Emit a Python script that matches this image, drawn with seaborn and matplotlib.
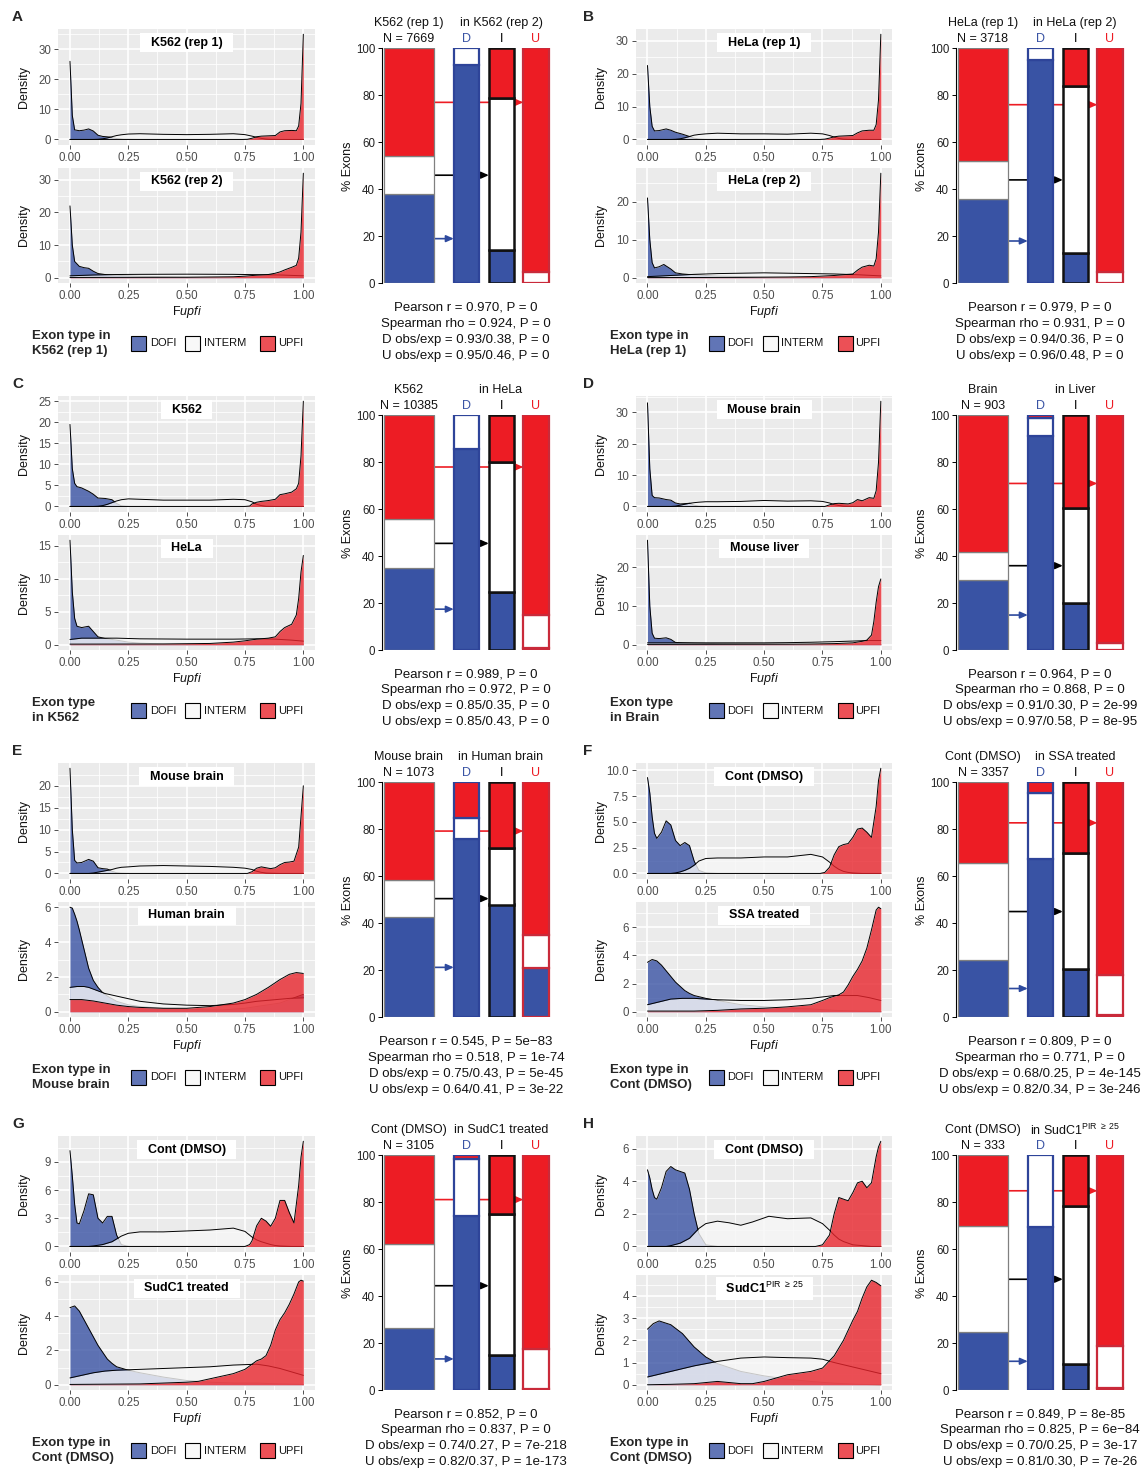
import numpy as np
import pandas as pd
import seaborn as sns
import matplotlib.pyplot as plt
from matplotlib.patches import Rectangle

W, H = 1144, 1472

# ---------------- density curves, (Fupfi, density) ----------------
a1_dofi = [(0, 26), (0.01, 8), (0.02, 3.2), (0.04, 2.9), (0.06, 3.1), (0.08, 3.5), (0.1, 2.8), (0.12, 1.4), (0.14, 1.0), (0.17, 0.8), (0.2, 0.3), (0.23, 0.05), (0.3, 0), (1, 0)]
a1_interm = [(0, 0), (0.1, 0), (0.12, 0.05), (0.14, 0.2), (0.16, 0.5), (0.18, 0.9), (0.2, 1.3), (0.22, 1.55), (0.25, 1.8), (0.3, 1.9), (0.4, 1.7), (0.5, 1.6), (0.6, 1.7), (0.7, 1.9), (0.75, 1.6), (0.78, 1.1), (0.8, 0.7), (0.82, 0.35), (0.84, 0.15), (0.86, 0.05), (0.9, 0), (1, 0)]
a1_upfi = [(0, 0), (0.74, 0), (0.76, 0.05), (0.78, 0.4), (0.8, 0.9), (0.82, 1.1), (0.85, 1.2), (0.88, 1.3), (0.9, 2.5), (0.92, 2.9), (0.95, 3.0), (0.97, 2.9), (0.98, 4.5), (0.99, 12), (1, 35)]
a2_dofi = [(0, 22), (0.01, 10), (0.02, 5), (0.04, 3.5), (0.06, 3.1), (0.08, 2.9), (0.1, 2.0), (0.12, 1.3), (0.15, 1.0), (0.2, 0.75), (0.3, 0.45), (0.5, 0.25), (0.7, 0.2), (0.85, 0.12), (1, 0.1)]
a2_interm = [(0, 0.6), (0.1, 0.85), (0.2, 1.0), (0.3, 1.05), (0.5, 1.1), (0.7, 1.05), (0.8, 0.95), (0.9, 0.85), (1, 0.6)]
a2_upfi = [(0, 0.1), (0.5, 0.15), (0.7, 0.3), (0.75, 0.5), (0.8, 0.8), (0.85, 1.0), (0.88, 1.4), (0.9, 1.8), (0.92, 2.4), (0.95, 3.2), (0.97, 3.8), (0.98, 6), (0.99, 14), (1, 32)]

b1_dofi = [(0, 22.5), (0.01, 10), (0.02, 4), (0.03, 2.6), (0.05, 2.7), (0.08, 3.2), (0.1, 2.8), (0.12, 2.2), (0.15, 1.6), (0.18, 0.9), (0.2, 0.4), (0.22, 0.15), (0.25, 0), (1, 0)]
b1_interm = [(0, 0), (0.1, 0), (0.12, 0.05), (0.14, 0.2), (0.16, 0.5), (0.18, 0.9), (0.2, 1.3), (0.22, 1.5), (0.25, 1.7), (0.3, 1.9), (0.4, 1.7), (0.5, 1.7), (0.6, 1.6), (0.7, 1.9), (0.75, 1.7), (0.78, 1.2), (0.8, 0.7), (0.82, 0.3), (0.84, 0.1), (0.86, 0.03), (0.9, 0), (1, 0)]
b1_upfi = [(0, 0), (0.74, 0), (0.76, 0.1), (0.78, 0.4), (0.8, 0.8), (0.82, 1.0), (0.85, 1.1), (0.88, 1.2), (0.9, 2.0), (0.92, 2.6), (0.95, 2.8), (0.97, 2.8), (0.98, 4.5), (0.99, 12), (1, 32)]
b2_dofi = [(0, 21), (0.01, 10), (0.02, 4), (0.03, 2.6), (0.05, 2.9), (0.07, 3.5), (0.1, 2.3), (0.12, 1.3), (0.15, 1.0), (0.2, 0.75), (0.3, 0.45), (0.5, 0.2), (0.7, 0.1), (1, 0.1)]
b2_interm = [(0, 0.3), (0.1, 0.6), (0.2, 0.9), (0.3, 1.1), (0.5, 1.3), (0.7, 1.1), (0.8, 1.0), (0.9, 0.8), (1, 0.5)]
b2_upfi = [(0, 0.05), (0.4, 0.1), (0.6, 0.2), (0.7, 0.3), (0.8, 0.6), (0.86, 0.9), (0.88, 1.0), (0.9, 2.0), (0.92, 2.8), (0.95, 3.3), (0.97, 3.1), (0.98, 5), (0.99, 12), (1, 27.5)]

c1_dofi = [(0, 19.5), (0.01, 9), (0.02, 5.5), (0.03, 4.7), (0.05, 4.4), (0.08, 3.6), (0.1, 2.9), (0.12, 2.0), (0.15, 1.9), (0.18, 1.6), (0.2, 0.7), (0.22, 0.15), (0.25, 0), (1, 0)]
c1_interm = [(0, 0), (0.1, 0), (0.12, 0.05), (0.14, 0.2), (0.16, 0.5), (0.18, 0.9), (0.2, 1.3), (0.22, 1.6), (0.25, 1.8), (0.3, 1.7), (0.4, 1.5), (0.5, 1.5), (0.6, 1.5), (0.7, 1.7), (0.75, 1.6), (0.78, 1.1), (0.8, 0.5), (0.82, 0.2), (0.84, 0.05), (0.88, 0), (1, 0)]
c1_upfi = [(0, 0), (0.75, 0), (0.77, 0.1), (0.78, 0.6), (0.8, 1.0), (0.82, 1.2), (0.85, 1.4), (0.88, 1.7), (0.9, 2.8), (0.92, 3.0), (0.95, 3.4), (0.97, 4.2), (0.98, 5.5), (0.99, 12), (1, 25)]
c2_dofi = [(0, 15.8), (0.01, 8), (0.02, 4), (0.03, 2.8), (0.05, 2.6), (0.08, 2.8), (0.1, 2.0), (0.12, 1.2), (0.15, 0.95), (0.2, 0.7), (0.25, 0.4), (0.3, 0.25), (0.4, 0.12), (0.6, 0.08), (1, 0.08)]
c2_interm = [(0, 0.8), (0.05, 1.0), (0.2, 1.0), (0.3, 0.9), (0.5, 0.85), (0.7, 0.85), (0.8, 0.9), (0.88, 0.85), (0.95, 0.7), (1, 0.55)]
c2_upfi = [(0, 0.1), (0.4, 0.12), (0.6, 0.2), (0.7, 0.4), (0.75, 0.6), (0.8, 0.85), (0.85, 1.0), (0.88, 1.2), (0.9, 2.0), (0.92, 2.6), (0.95, 3.1), (0.97, 4.5), (0.98, 7), (0.99, 11), (1, 13.5)]

d1_dofi = [(0, 33), (0.01, 12), (0.02, 3.5), (0.03, 2.8), (0.05, 2.7), (0.08, 2.2), (0.1, 2.0), (0.12, 1.1), (0.14, 0.8), (0.16, 0.9), (0.18, 1.0), (0.2, 0.4), (0.22, 0.1), (0.25, 0), (1, 0)]
d1_interm = [(0, 0), (0.1, 0), (0.12, 0.1), (0.14, 0.4), (0.16, 0.7), (0.18, 1.0), (0.2, 1.2), (0.22, 1.35), (0.25, 1.5), (0.3, 1.5), (0.4, 1.6), (0.5, 1.9), (0.6, 1.7), (0.7, 1.8), (0.75, 1.6), (0.78, 1.1), (0.8, 0.6), (0.82, 0.3), (0.84, 0.1), (0.86, 0.05), (0.9, 0), (1, 0)]
d1_upfi = [(0, 0), (0.76, 0), (0.78, 0.5), (0.8, 0.9), (0.82, 1.0), (0.84, 0.9), (0.86, 0.8), (0.88, 1.2), (0.9, 2.2), (0.92, 1.8), (0.95, 2.8), (0.97, 2.6), (0.98, 5), (0.99, 14), (1, 33.5)]
d2_dofi = [(0, 27), (0.01, 10), (0.02, 3), (0.03, 1.7), (0.05, 1.6), (0.08, 1.8), (0.1, 1.4), (0.12, 0.6), (0.15, 0.5), (0.2, 0.4), (0.3, 0.3), (0.5, 0.2), (0.7, 0.1), (1, 0.1)]
d2_interm = [(0, 0.5), (0.5, 0.5), (0.6, 0.55), (0.7, 0.65), (0.8, 0.8), (0.9, 1.0), (0.95, 1.1), (1, 1.1)]
d2_upfi = [(0, 0.1), (0.6, 0.15), (0.7, 0.2), (0.8, 0.3), (0.88, 0.5), (0.9, 0.7), (0.92, 0.9), (0.94, 1.2), (0.96, 2.5), (0.97, 6), (0.98, 11), (0.99, 15), (1, 17)]

e1_dofi = [(0, 24), (0.01, 10), (0.02, 3), (0.03, 2.4), (0.05, 2.5), (0.08, 3.2), (0.1, 2.8), (0.12, 1.3), (0.14, 1.1), (0.16, 1.0), (0.18, 0.5), (0.2, 0.15), (0.22, 0.05), (0.25, 0), (1, 0)]
e1_interm = [(0, 0), (0.08, 0), (0.1, 0.1), (0.12, 0.3), (0.14, 0.5), (0.16, 0.7), (0.18, 0.9), (0.2, 1.2), (0.22, 1.4), (0.25, 1.5), (0.3, 1.7), (0.4, 1.8), (0.5, 1.7), (0.6, 1.6), (0.7, 1.4), (0.75, 1.2), (0.78, 0.9), (0.8, 0.5), (0.82, 0.25), (0.84, 0.1), (0.86, 0.05), (0.9, 0), (1, 0)]
e1_upfi = [(0, 0), (0.76, 0), (0.78, 0.4), (0.8, 1.2), (0.82, 1.5), (0.84, 1.3), (0.86, 1.1), (0.88, 1.3), (0.9, 2.0), (0.92, 2.5), (0.94, 2.6), (0.96, 2.8), (0.98, 6), (0.99, 13), (1, 20)]
e2_dofi = [(0, 6.0), (0.01, 5.95), (0.02, 5.6), (0.03, 5.2), (0.04, 4.7), (0.06, 3.6), (0.08, 2.5), (0.1, 1.8), (0.12, 1.4), (0.14, 1.1), (0.16, 0.9), (0.18, 0.75), (0.2, 0.6), (0.25, 0.4), (0.3, 0.3), (0.4, 0.2), (0.5, 0.15), (0.6, 0.1), (0.65, 0.1), (0.75, 0.2), (0.8, 0.3), (0.85, 0.4), (0.9, 0.5), (0.95, 0.75), (1, 1.0)]
e2_interm = [(0, 1.4), (0.03, 1.45), (0.06, 1.45), (0.08, 1.4), (0.1, 1.3), (0.12, 1.2), (0.15, 1.05), (0.2, 0.9), (0.25, 0.75), (0.3, 0.6), (0.4, 0.45), (0.5, 0.38), (0.6, 0.35), (0.7, 0.42), (0.75, 0.5), (0.8, 0.6), (0.85, 0.66), (0.9, 0.72), (0.95, 0.78), (1, 0.8)]
e2_upfi = [(0, 0.7), (0.05, 0.7), (0.1, 0.62), (0.15, 0.5), (0.2, 0.38), (0.25, 0.3), (0.3, 0.25), (0.4, 0.2), (0.5, 0.2), (0.6, 0.3), (0.7, 0.5), (0.75, 0.7), (0.8, 1.0), (0.85, 1.4), (0.9, 1.85), (0.94, 2.15), (0.97, 2.25), (1, 2.2)]

f1_dofi = [(0, 9.3), (0.01, 7.8), (0.02, 5.5), (0.03, 3.9), (0.04, 3.4), (0.06, 4.0), (0.08, 5.1), (0.1, 4.7), (0.12, 3.2), (0.14, 2.7), (0.16, 3.0), (0.18, 2.7), (0.2, 1.2), (0.22, 0.3), (0.25, 0.05), (0.3, 0), (1, 0)]
f1_interm = [(0, 0), (0.1, 0), (0.12, 0.05), (0.14, 0.15), (0.16, 0.3), (0.18, 0.5), (0.2, 0.8), (0.22, 1.2), (0.25, 1.45), (0.3, 1.5), (0.4, 1.5), (0.5, 1.6), (0.6, 1.6), (0.7, 1.85), (0.75, 1.6), (0.78, 1.1), (0.8, 0.7), (0.82, 0.4), (0.84, 0.2), (0.86, 0.1), (0.88, 0.05), (0.92, 0), (1, 0)]
f1_upfi = [(0, 0), (0.74, 0), (0.76, 0.1), (0.78, 0.6), (0.8, 1.8), (0.82, 2.6), (0.84, 2.8), (0.86, 2.9), (0.88, 3.5), (0.9, 4.3), (0.92, 4.4), (0.94, 4.0), (0.96, 3.5), (0.98, 6.5), (0.99, 9), (1, 10.2)]
f2_dofi = [(0, 3.5), (0.02, 3.7), (0.04, 3.6), (0.06, 3.3), (0.08, 2.9), (0.1, 2.5), (0.12, 2.1), (0.14, 1.8), (0.16, 1.5), (0.18, 1.3), (0.2, 1.15), (0.25, 0.95), (0.3, 0.8), (0.4, 0.5), (0.5, 0.35), (0.6, 0.25), (0.7, 0.2), (0.8, 0.1), (0.9, 0.05), (1, 0.02)]
f2_interm = [(0, 0.5), (0.05, 0.7), (0.1, 0.9), (0.15, 0.95), (0.2, 0.95), (0.3, 0.85), (0.4, 0.8), (0.5, 0.8), (0.6, 0.85), (0.7, 0.95), (0.75, 1.05), (0.8, 1.15), (0.9, 1.15), (0.95, 1.0), (1, 0.8)]
f2_upfi = [(0, 0.05), (0.2, 0.05), (0.3, 0.1), (0.4, 0.2), (0.5, 0.25), (0.6, 0.35), (0.7, 0.5), (0.75, 0.8), (0.78, 1.0), (0.82, 1.2), (0.84, 1.4), (0.86, 1.9), (0.88, 2.5), (0.9, 3.0), (0.92, 3.6), (0.94, 4.5), (0.96, 5.8), (0.98, 7.2), (0.99, 7.4), (1, 7.3)]

g1_dofi = [(0, 10.2), (0.01, 7.5), (0.02, 4.5), (0.03, 2.5), (0.04, 2.4), (0.06, 3.8), (0.08, 5.6), (0.1, 5.5), (0.12, 3.0), (0.14, 2.5), (0.16, 3.2), (0.18, 3.2), (0.2, 1.2), (0.22, 0.2), (0.25, 0), (1, 0)]
g1_interm = [(0, 0), (0.08, 0), (0.1, 0.05), (0.14, 0.2), (0.18, 0.5), (0.2, 0.8), (0.22, 1.1), (0.25, 1.4), (0.3, 1.55), (0.4, 1.55), (0.5, 1.65), (0.6, 1.75), (0.7, 1.95), (0.75, 1.6), (0.78, 1.0), (0.8, 0.7), (0.82, 0.5), (0.84, 0.35), (0.86, 0.2), (0.88, 0.1), (0.9, 0.05), (0.95, 0), (1, 0)]
g1_upfi = [(0, 0), (0.75, 0), (0.77, 0.2), (0.78, 0.6), (0.8, 2.2), (0.82, 3.0), (0.84, 2.7), (0.86, 2.15), (0.88, 3.0), (0.9, 4.9), (0.92, 4.9), (0.94, 3.6), (0.96, 2.5), (0.98, 6.5), (0.99, 9.5), (1, 11.2)]
g2_dofi = [(0, 4.5), (0.02, 4.6), (0.04, 4.3), (0.06, 3.8), (0.08, 3.3), (0.1, 2.8), (0.12, 2.3), (0.14, 1.9), (0.16, 1.5), (0.18, 1.25), (0.2, 1.05), (0.25, 0.85), (0.3, 0.7), (0.4, 0.45), (0.5, 0.25), (0.6, 0.15), (0.7, 0.1), (0.8, 0.1), (0.9, 0.05), (1, 0.02)]
g2_interm = [(0, 0.4), (0.05, 0.55), (0.1, 0.7), (0.15, 0.8), (0.2, 0.85), (0.3, 0.9), (0.4, 0.95), (0.5, 1.0), (0.6, 1.05), (0.7, 1.15), (0.8, 1.2), (0.85, 1.1), (0.9, 0.95), (0.95, 0.75), (1, 0.55)]
g2_upfi = [(0, 0.02), (0.3, 0.05), (0.4, 0.1), (0.5, 0.15), (0.55, 0.2), (0.6, 0.35), (0.7, 0.65), (0.75, 0.9), (0.78, 1.2), (0.8, 1.4), (0.82, 1.5), (0.84, 1.7), (0.86, 2.3), (0.88, 3.2), (0.9, 3.8), (0.92, 4.2), (0.94, 4.7), (0.96, 5.3), (0.98, 6.0), (0.99, 6.1), (1, 6.05)]

h1_dofi = [(0, 4.7), (0.01, 4.2), (0.02, 3.5), (0.03, 3.0), (0.04, 2.9), (0.06, 3.6), (0.08, 4.6), (0.1, 4.9), (0.12, 4.7), (0.14, 4.6), (0.16, 4.5), (0.18, 3.5), (0.2, 2.0), (0.22, 0.8), (0.25, 0.1), (0.3, 0), (1, 0)]
h1_interm = [(0, 0), (0.08, 0), (0.1, 0.05), (0.14, 0.2), (0.18, 0.5), (0.2, 0.8), (0.22, 1.1), (0.25, 1.4), (0.3, 1.55), (0.35, 1.45), (0.4, 1.3), (0.45, 1.5), (0.52, 1.85), (0.6, 1.7), (0.7, 1.75), (0.75, 1.4), (0.78, 1.0), (0.8, 0.7), (0.82, 0.45), (0.84, 0.3), (0.86, 0.2), (0.88, 0.1), (0.92, 0.05), (0.96, 0), (1, 0)]
h1_upfi = [(0, 0), (0.72, 0), (0.75, 0.1), (0.78, 0.7), (0.8, 2.0), (0.82, 3.0), (0.84, 2.9), (0.86, 2.8), (0.88, 3.3), (0.9, 3.9), (0.92, 4.0), (0.94, 3.6), (0.96, 3.9), (0.98, 5.5), (0.99, 6.1), (1, 6.45)]
h2_dofi = [(0, 2.5), (0.025, 2.75), (0.05, 2.87), (0.1, 2.7), (0.15, 2.3), (0.2, 1.7), (0.25, 1.25), (0.3, 0.95), (0.4, 0.6), (0.5, 0.4), (0.6, 0.25), (0.7, 0.15), (0.8, 0.07), (0.9, 0.02), (1, 0)]
h2_interm = [(0, 0.35), (0.1, 0.6), (0.2, 0.85), (0.3, 1.05), (0.4, 1.2), (0.5, 1.25), (0.6, 1.22), (0.7, 1.2), (0.75, 1.15), (0.8, 1.0), (0.9, 0.75), (1, 0.5)]
h2_upfi = [(0, 0), (0.1, 0.02), (0.2, 0.05), (0.3, 0.15), (0.35, 0.1), (0.4, 0.05), (0.45, 0.05), (0.5, 0.15), (0.6, 0.45), (0.7, 0.6), (0.75, 0.75), (0.8, 1.3), (0.84, 2.0), (0.88, 2.9), (0.9, 3.3), (0.92, 3.9), (0.94, 4.4), (0.96, 4.7), (0.98, 4.6), (1, 4.45)]

# y tick step of the upper / lower density panel
tick_steps = [(10, 10), (10, 10), (5, 5), (10, 10), (5, 2), (2.5, 2), (3, 2), (2, 1)]

# ---------------- stacked bars: % D / I / U; reference bar then D, I, U groups ----------------
bars_a = [[38, 16, 46], [93, 7, 0], [14, 65, 21], [0, 5, 95]]
bars_b = [[36, 16, 48], [95, 5, 0], [13, 71, 16], [0, 5, 95]]
bars_c = [[35, 21, 44], [85.5, 14.5, 0], [25, 55, 20], [1, 14, 85]]
bars_d = [[30, 12, 58], [91, 8, 1], [20, 40.5, 39.5], [0, 3, 97]]
bars_e = [[42.5, 16, 41.5], [76, 9, 15], [48, 24, 28], [21, 14, 65]]
bars_f = [[24.5, 41, 34.5], [67.5, 28, 4.5], [20.5, 49.5, 30], [1, 17, 82]]
bars_g = [[26.7, 35.6, 37.7], [74, 24.5, 1.5], [15, 60, 25], [0.7, 16.7, 82.6]]
bars_h = [[24.7, 45.1, 30.2], [69.5, 30.5, 0], [11, 67.5, 21.5], [1, 18, 81]]

n_exons = [7669, 3718, 10385, 903, 1073, 3357, 3105, 333]
ref_names = ['K562 (rep 1)', 'HeLa (rep 1)', 'K562', 'Brain', 'Mouse brain', 'Cont (DMSO)', 'Cont (DMSO)', 'Cont (DMSO)']
cmp_names = ['in K562 (rep 2)', 'in HeLa (rep 2)', 'in HeLa', 'in Liver', 'in Human brain', 'in SSA treated',
             'in SudC1 treated', 'in SudC1$^{\\mathrm{PIR\\ \\geq\\ 25}}$']
strip_top = ['K562 (rep 1)', 'HeLa (rep 1)', 'K562', 'Mouse brain', 'Mouse brain', 'Cont (DMSO)', 'Cont (DMSO)', 'Cont (DMSO)']
strip_bottom = ['K562 (rep 2)', 'HeLa (rep 2)', 'HeLa', 'Mouse liver', 'Human brain', 'SSA treated', 'SudC1 treated',
                'SudC1$^{\\mathrm{PIR\\ \\geq\\ 25}}$']
legend_titles = ['Exon type in\nK562 (rep 1)', 'Exon type in\nHeLa (rep 1)', 'Exon type\nin K562', 'Exon type\nin Brain',
                 'Exon type in\nMouse brain', 'Exon type in\nCont (DMSO)', 'Exon type in\nCont (DMSO)', 'Exon type in\nCont (DMSO)']

pearson_r = ['0.970', '0.979', '0.989', '0.964', '0.545', '0.809', '0.852', '0.849']
pearson_p = ['0', '0', '0', '0', '5e\u221283', '0', '0', '8e-85']
spearman_rho = ['0.924', '0.931', '0.972', '0.868', '0.518', '0.771', '0.837', '0.825']
spearman_p = ['0', '0', '0', '0', '1e-74', '0', '0', '6e\u221284']
d_obs_exp = ['0.93/0.38', '0.94/0.36', '0.85/0.35', '0.91/0.30', '0.75/0.43', '0.68/0.25', '0.74/0.27', '0.70/0.25']
d_p = ['0', '0', '0', '2e-99', '5e-45', '4e-145', '7e-218', '3e-17']
u_obs_exp = ['0.95/0.46', '0.96/0.48', '0.85/0.43', '0.97/0.58', '0.64/0.41', '0.82/0.34', '0.82/0.37', '0.81/0.30']
u_p = ['0', '0', '0', '8e-95', '3e-22', '3e-246', '1e-173', '7e-26']

letters = ['A', 'B', 'C', 'D', 'E', 'F', 'G', 'H']
densities = [
    ((a1_dofi, a1_interm, a1_upfi), (a2_dofi, a2_interm, a2_upfi)),
    ((b1_dofi, b1_interm, b1_upfi), (b2_dofi, b2_interm, b2_upfi)),
    ((c1_dofi, c1_interm, c1_upfi), (c2_dofi, c2_interm, c2_upfi)),
    ((d1_dofi, d1_interm, d1_upfi), (d2_dofi, d2_interm, d2_upfi)),
    ((e1_dofi, e1_interm, e1_upfi), (e2_dofi, e2_interm, e2_upfi)),
    ((f1_dofi, f1_interm, f1_upfi), (f2_dofi, f2_interm, f2_upfi)),
    ((g1_dofi, g1_interm, g1_upfi), (g2_dofi, g2_interm, g2_upfi)),
    ((h1_dofi, h1_interm, h1_upfi), (h2_dofi, h2_interm, h2_upfi)),
]
bar_sets = [bars_a, bars_b, bars_c, bars_d, bars_e, bars_f, bars_g, bars_h]

# ---------------- style ----------------
sns.set_theme(style='darkgrid', rc={'axes.facecolor': '#EBEBEB', 'grid.color': 'white'})
plt.rcParams['font.family'] = ['Liberation Sans', 'DejaVu Sans']
plt.rcParams['mathtext.fontset'] = 'custom'
plt.rcParams['mathtext.rm'] = 'Liberation Sans'
plt.rcParams['mathtext.it'] = 'Liberation Sans:italic'
plt.rcParams['mathtext.bf'] = 'Liberation Sans:bold'

TYPES = ['DOFI', 'INTERM', 'UPFI']
FILLS = ['#3A53A4', '#F7F7F7', '#E8242C']
BAR_FILLS = ['#3953A4', 'white', '#ED1C24']
BAR_EDGES = ['#808080', '#2E4499', '#111111', '#C92A3A']
BAR_LW = [0.9, 1.6, 1.8, 1.6]
BAR_POS = [0, 1.645, 2.645, 3.63]
BAR_W = [1.41, 0.73, 0.73, 0.73]
ARROW_COLS = ['#2E4A9E', 'black', '#ED1C24']

ROW_OFF = [0, 367, 734, 1107]
DENS_DX = [0, 577.5]
BAR_DX = [0, 574]
LETTER_X = [12, 583]

fig = plt.figure(figsize=(W / 100, H / 100), dpi=100)


def box(x0, y0, x1, y1):
    return fig.add_axes([x0 / W, 1 - y1 / H, (x1 - x0) / W, (y1 - y0) / H])


over = box(0, 0, W, H)
over.set_xlim(0, W)
over.set_ylim(H, 0)
over.axis('off')


def draw_density(ax, curves, step, strip):
    top = max(y for c in curves for _, y in c)
    z = 2
    for pts, col in zip(curves, FILLS):
        df = pd.DataFrame(pts, columns=['fupfi', 'density'])
        ax.fill_between(df['fupfi'], df['density'], color=col, alpha=0.8, lw=0, zorder=z)
        sns.lineplot(data=df, x='fupfi', y='density', ax=ax, color='black', lw=0.7, zorder=z + 0.5)
        z += 1
    ax.set_xlim(-0.05, 1.05)
    ax.set_ylim(-0.05 * top, 1.05 * top)
    ax.set_axisbelow(True)
    xt = [0, 0.25, 0.5, 0.75, 1.0]
    ax.set_xticks(xt)
    ax.set_xticklabels(['%.2f' % v for v in xt])
    ax.set_xticks([0.125, 0.375, 0.625, 0.875], minor=True)
    yt = np.arange(0, top + 1e-9, step)
    ax.set_yticks(yt)
    if float(step).is_integer():
        ax.set_yticklabels(['%d' % v for v in yt])
    else:
        ax.set_yticklabels(['%.1f' % v for v in yt])
    ax.set_yticks(np.arange(step / 2, top * 1.05, step), minor=True)
    ax.grid(which='major', color='white', lw=1.2)
    ax.grid(which='minor', color='white', lw=0.55)
    ax.tick_params(which='major', bottom=True, left=True, length=3, width=0.6, color='#333333',
                   labelsize=8.3, labelcolor='#4D4D4D', pad=2)
    ax.tick_params(which='minor', length=0)
    for s in ax.spines.values():
        s.set_visible(False)
    ax.set_xlabel('')
    ax.set_ylabel('')
    ax.text(0.5, 0.883, '  ' + strip + '  ', transform=ax.transAxes, ha='center', va='center',
            fontsize=9, fontweight='bold', color='black', zorder=10,
            bbox=dict(facecolor='white', edgecolor='none', boxstyle='square,pad=0.3'))


def draw_bars(ax, comp, k):
    for j, (pos, vals) in enumerate(zip(BAR_POS, comp)):
        bottom = 0
        for v, fc in zip(vals, BAR_FILLS):
            if v > 0:
                ax.bar(pos, v, width=BAR_W[j], bottom=bottom, color=fc, edgecolor=BAR_EDGES[j],
                       lw=BAR_LW[j], zorder=3)
            bottom += v
    # arrows from the middle of each reference segment to its group bar
    ref = comp[0]
    bottoms = np.cumsum([0] + ref[:-1])
    x_start = BAR_POS[0] + BAR_W[0] / 2
    for t in range(3):
        y = bottoms[t] + ref[t] / 2
        x_end = BAR_POS[t + 1] - BAR_W[t + 1] / 2
        ax.annotate('', xy=(x_end, y), xytext=(x_start, y),
                    arrowprops=dict(arrowstyle='-|>,head_length=0.45,head_width=0.2', color=ARROW_COLS[t],
                                    lw=1.2, shrinkA=0, shrinkB=0, mutation_scale=10), zorder=1)
    ax.set_xlim(-0.771, 4.114)
    ax.set_ylim(0, 100)
    ax.set_facecolor('white')
    ax.grid(False)
    ax.set_xticks([])
    ax.set_yticks([0, 20, 40, 60, 80, 100])
    ax.tick_params(axis='y', left=True, length=3, width=0.7, color='black', labelsize=8.3,
                   labelcolor='#222222', pad=2)
    for side in ['top', 'right', 'bottom']:
        ax.spines[side].set_visible(False)
    ax.spines['left'].set_visible(True)
    ax.spines['left'].set_color('black')
    ax.spines['left'].set_linewidth(0.8)
    kw = dict(ha='center', va='center', fontsize=9, clip_on=False)
    ax.text(BAR_POS[0], 110.8, ref_names[k], color='#111111', **kw)
    ax.text(2.63, 110.8, cmp_names[k], color='#111111', **kw)
    ax.text(BAR_POS[0], 103.9, 'N = %d' % n_exons[k], color='#111111', **kw)
    for lab, pos, col in zip(['D', 'I', 'U'], BAR_POS[1:], ['#3953A4', 'black', '#ED1C24']):
        ax.text(pos, 103.9, lab, color=col, **kw)


for k in range(8):
    col, row = k % 2, k // 2
    r = ROW_OFF[row]
    dx = DENS_DX[col]
    bx = BAR_DX[col]

    top_ax = box(58.3 + dx, 29 + r, 315 + dx, 144.7 + r)
    bot_ax = box(58.3 + dx, 168 + r, 315 + dx, 283 + r)
    draw_density(top_ax, densities[k][0], tick_steps[k][0], strip_top[k])
    draw_density(bot_ax, densities[k][1], tick_steps[k][1], strip_bottom[k])

    bar_ax = box(382 + bx, 48.3 + r, 553 + bx, 283.3 + r)
    draw_bars(bar_ax, bar_sets[k], k)

    # texts in pixel space
    over.text(LETTER_X[col], 17 + r, letters[k], ha='left', va='center', fontsize=11, fontweight='bold')
    for yc in (86.85, 225.5):
        over.text(24 + dx, yc + r, 'Density', rotation=90, ha='center', va='center', fontsize=9, color='#111111')
    over.text(186.7 + dx, 312 + r, 'F$\\mathit{upfi}$', ha='center', va='center', fontsize=9, color='#111111')
    over.text(348 + bx, 165.8 + r, '% Exons', rotation=90, ha='center', va='center', fontsize=9, color='#111111')

    stats = ['Pearson r = %s, P = %s' % (pearson_r[k], pearson_p[k]),
             'Spearman rho = %s, P = %s' % (spearman_rho[k], spearman_p[k]),
             'D obs/exp = %s, P = %s' % (d_obs_exp[k], d_p[k]),
             'U obs/exp = %s, P = %s' % (u_obs_exp[k], u_p[k])]
    for i, line in enumerate(stats):
        over.text(466 + bx, 307.5 + 16 * i + r, line, ha='center', va='center', fontsize=9.5, color='#111111')

    # legend
    over.text(32 + dx, 343.5 + r, legend_titles[k], ha='left', va='center', fontsize=9.5,
              fontweight='bold', linespacing=1.25)
    for t, (bx0, tx) in enumerate([(131, 150), (185, 204), (260, 278)]):
        over.add_patch(Rectangle((bx0 + dx, 336 + r), 15, 15, facecolor=FILLS[t], alpha=0.8,
                                 edgecolor='none'))
        over.add_patch(Rectangle((bx0 + dx, 336 + r), 15, 15, facecolor='none', edgecolor='black', lw=0.8))
        over.text(tx + dx, 343.5 + r, TYPES[t], ha='left', va='center', fontsize=8, color='#111111')

fig.savefig('out.png', dpi=100)
